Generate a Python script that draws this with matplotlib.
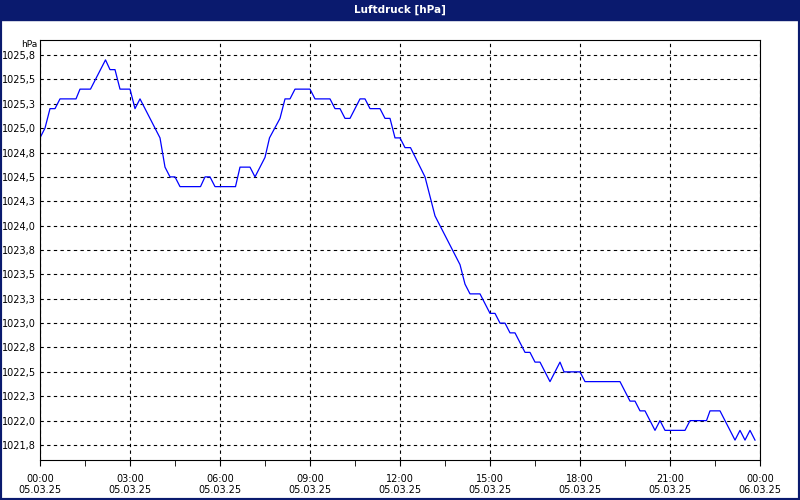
import matplotlib
matplotlib.use("Agg")
import matplotlib.pyplot as plt
from matplotlib.patches import Rectangle
import numpy as np

# (minutes since 05.03.25 00:00, pressure [hPa])
readings = [
    (0, 1024.9), (10, 1025.0), (20, 1025.2), (30, 1025.2), (40, 1025.3), (72, 1025.3),
    (80, 1025.4), (101, 1025.4), (131, 1025.7), (140, 1025.6), (150, 1025.6), (160, 1025.4),
    (180, 1025.4), (190, 1025.2), (200, 1025.3), (240, 1024.9), (250, 1024.6), (260, 1024.5),
    (270, 1024.5), (280, 1024.4), (321, 1024.4), (330, 1024.5), (340, 1024.5), (350, 1024.4),
    (391, 1024.4), (400, 1024.6), (420, 1024.6), (430, 1024.5), (450, 1024.7), (459, 1024.9),
    (480, 1025.1), (490, 1025.3), (500, 1025.3), (510, 1025.4), (540, 1025.4), (550, 1025.3),
    (580, 1025.3), (590, 1025.2), (600, 1025.2), (610, 1025.1), (620, 1025.1), (640, 1025.3),
    (650, 1025.3), (660, 1025.2), (680, 1025.2), (690, 1025.1), (700, 1025.1), (710, 1024.9),
    (720, 1024.9), (730, 1024.8), (741, 1024.8), (770, 1024.5), (790, 1024.1), (840, 1023.6),
    (850, 1023.4), (860, 1023.3), (880, 1023.3), (900, 1023.1), (910, 1023.1), (920, 1023.0),
    (930, 1023.0), (940, 1022.9), (950, 1022.9), (970, 1022.7), (980, 1022.7), (990, 1022.6),
    (1000, 1022.6), (1020, 1022.4), (1040, 1022.6), (1048, 1022.5), (1080, 1022.5),
    (1090, 1022.4), (1160, 1022.4), (1180, 1022.2), (1190, 1022.2), (1200, 1022.1),
    (1210, 1022.1), (1230, 1021.9), (1240, 1022.0), (1250, 1021.9), (1290, 1021.9),
    (1300, 1022.0), (1333, 1022.0), (1340, 1022.1), (1360, 1022.1), (1390, 1021.8),
    (1400, 1021.9), (1410, 1021.8), (1420, 1021.9), (1430, 1021.8),
]
minutes = [m for m, _ in readings]
pressure = [p for _, p in readings]
x_labels = ["00:00\n05.03.25", "03:00\n05.03.25", "06:00\n05.03.25", "09:00\n05.03.25",
            "12:00\n05.03.25", "15:00\n05.03.25", "18:00\n05.03.25", "21:00\n05.03.25",
            "00:00\n06.03.25"]
y_ticks = [1021.75 + 0.25 * k for k in range(17)]

plt.rcParams['font.family'] = ['DejaVu Sans']
fig = plt.figure(figsize=(8, 5), dpi=100)
navy = "#0a1a6e"
fig.patches.append(Rectangle((0, 0), 1, 1, transform=fig.transFigure, fill=False,
                             edgecolor=navy, linewidth=3))
fig.patches.append(Rectangle((0, 0.96), 1, 0.04, transform=fig.transFigure,
                             facecolor=navy, edgecolor=navy))
fig.text(0.5, 0.981, "Luftdruck [hPa]", color="white", fontsize=7.5, fontweight="bold",
         ha="center", va="center")

ax = fig.add_axes([0.05, 0.08, 0.90, 0.84])
hours = np.array(minutes) / 60.0
ax.plot(hours, pressure, color="#0000ff", linewidth=0.9)
ax.set_xlim(0, 24)
ax.set_ylim(1021.596, 1025.904)
ax.set_xticks(range(0, 25, 3))
ax.set_xticklabels(x_labels, fontsize=7)
ax.set_xticks(np.arange(1.5, 24, 3), minor=True)
ax.set_yticks(y_ticks)
ax.set_yticklabels([f"{v + 1e-6:.1f}".replace(".", ",") for v in y_ticks], fontsize=7)
ax.tick_params(axis="y", length=0, pad=3)
ax.tick_params(axis="x", which="both", length=4, direction="out", pad=6)
ax.grid(True, color="black", linestyle=(0, (3, 3)), linewidth=0.8)
for s in ax.spines.values():
    s.set_color("black"); s.set_linewidth(0.8)
ax.text(-0.004, 0.99, "hPa", transform=ax.transAxes, ha="right", va="center", fontsize=6.5)
fig.savefig("out.png", dpi=100)
